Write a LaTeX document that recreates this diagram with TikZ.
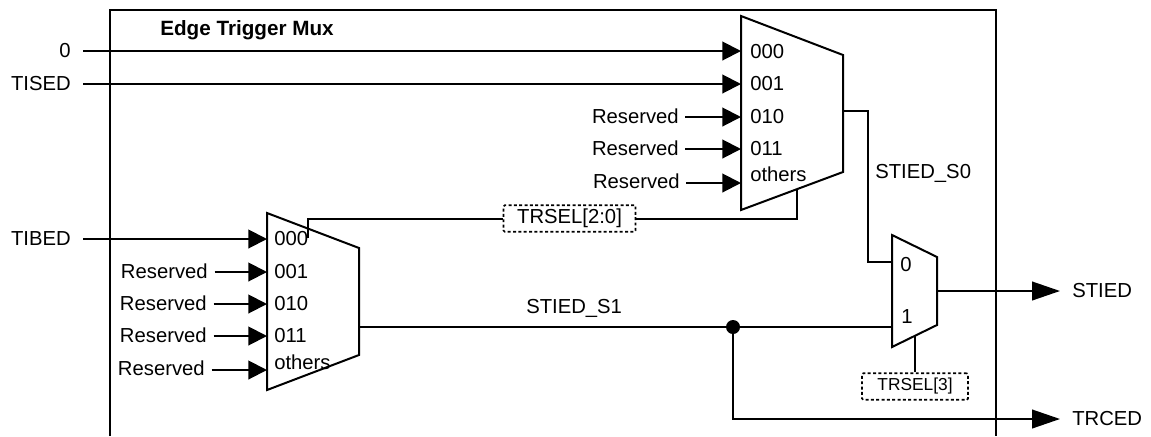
\documentclass[tikz,border=0pt]{standalone}
\usepackage{fontspec}
\setmainfont{Liberation Sans}
\usetikzlibrary{arrows.meta}
\tikzset{
  x=0.75pt,y=-0.75pt,
  wire/.style={line width=1.5pt},
  sig/.style={wire,-{Triangle[length=14pt,width=14pt]}},
  bigsig/.style={wire,-{Triangle[length=21pt,width=14pt]}},
  txt/.style={inner sep=0pt,font=\fontsize{15.2}{15.2}\selectfont},
  port/.style={txt,anchor=base west},
  lab/.style={txt,anchor=base east},
  sel/.style={draw,dash pattern=on 2.2pt off 1.8pt,line width=1.3pt,rounded corners=1pt,inner sep=0pt},
}
\begin{document}
\begin{tikzpicture}
\useasboundingbox (0,0) rectangle (1151,436);
% outer frame
\coordinate (fa) at (110,436);\coordinate (fb) at (110,10);\coordinate (fc) at (995.5,10);\coordinate (fd) at (995.5,436);
\draw[wire] (fa) -- (fb) -- (fc) -- (fd);
\node[txt,anchor=base west,font=\fontsize{15.5}{15.5}\selectfont\bfseries] (title) at (160,35) {Edge Trigger Mux};
% muxes
\coordinate (ma1) at (741,16);\coordinate (ma2) at (843,55);\coordinate (ma3) at (843,172);\coordinate (ma4) at (741,210);
\draw[wire,line join=miter] (ma1) -- (ma2) -- (ma3) -- (ma4) -- cycle;
\coordinate (mb1) at (267,213);\coordinate (mb2) at (359,248);\coordinate (mb3) at (359,355);\coordinate (mb4) at (267,390);
\draw[wire,line join=miter] (mb1) -- (mb2) -- (mb3) -- (mb4) -- cycle;
\coordinate (mc1) at (892,235);\coordinate (mc2) at (937,257);\coordinate (mc3) at (937,325);\coordinate (mc4) at (892,347);
\draw[wire,line join=miter] (mc1) -- (mc2) -- (mc3) -- (mc4) -- cycle;
% port coordinates
\foreach \n/\y in {0/51,1/84,2/117,3/149,4/183}{\coordinate (a\n) at (741,\y);}
\foreach \n/\y in {0/239,1/272,2/304,3/336,4/370}{\coordinate (b\n) at (267,\y);}
% top mux ports
\node[port] (pa0) at (750,58) {000};
\node[port] (pa1) at (750,90) {001};
\node[port] (pa2) at (750,123) {010};
\node[port] (pa3) at (750,155) {011};
\node[port] (pa4) at (750,181) {others};
% lower mux ports
\node[port] (pb0) at (274,245) {000};
\node[port] (pb1) at (274,278) {001};
\node[port] (pb2) at (274,310) {010};
\node[port] (pb3) at (274,342) {011};
\node[port] (pb4) at (274,369) {others};
% small mux ports
\node[port] (pc0) at (900,271) {0};
\node[port] (pc1) at (901,323) {1};
% inputs
\node[lab] (zero) at (71,57) {0};
\node[lab] (tised) at (71,90) {TISED};
\node[lab] (tibed) at (71,245) {TIBED};
\coordinate (zs) at (83,51);\coordinate (ts) at (83,84);\coordinate (bs) at (83,239);
\draw[sig] (zs) -- (a0);
\draw[sig] (ts) -- (a1);
\draw[sig] (bs) -- (b0);
\node[lab] (ra2) at (679,123) {Reserved};
\node[lab] (ra3) at (679,155) {Reserved};
\node[lab] (ra4) at (680,188) {Reserved};
\draw[sig] ([xshift=4.5pt]ra2.east |- a2) -- (a2);
\draw[sig] ([xshift=4.5pt]ra3.east |- a3) -- (a3);
\draw[sig] ([xshift=4.5pt]ra4.east |- a4) -- (a4);
\node[lab] (rb1) at (208,278) {Reserved};
\node[lab] (rb2) at (207,310) {Reserved};
\node[lab] (rb3) at (207,342) {Reserved};
\node[lab] (rb4) at (205,375) {Reserved};
\draw[sig] ([xshift=5pt]rb1.east |- b1) -- (b1);
\draw[sig] ([xshift=5pt]rb2.east |- b2) -- (b2);
\draw[sig] ([xshift=5pt]rb3.east |- b3) -- (b3);
\draw[sig] ([xshift=5pt]rb4.east |- b4) -- (b4);
% select boxes
\node[sel,minimum width=99pt,minimum height=20pt,font=\fontsize{15.2}{15.2}\selectfont] (s20) at (569.5,218.5) {TRSEL[2:0]};
\node[sel,minimum width=79.5pt,minimum height=20pt,font=\fontsize{13}{13}\selectfont] (s3) at (915,386.5) {TRSEL[3]};
\coordinate (sl) at (308,238);\coordinate (sr) at (797,190);\coordinate (sc) at (915,336);
\draw[wire] (sl) |- (s20.west);
\draw[wire] (s20.east) -| (sr);
\draw[wire] (s3.north) -- (sc);
% outputs of muxes
\coordinate (oa) at (843,111);\coordinate (ia) at (892,262);\coordinate (oa1) at (868,111);\coordinate (oa2) at (868,262);
\draw[wire] (oa) -- (oa1) -- (oa2) -- (ia);
\coordinate (ob) at (359,327);\coordinate (ic) at (892,327);
\draw[wire] (ob) -- (ic);
\node[txt,anchor=base west] (ls0) at (875,178) {STIED\_S0};
\node[txt,anchor=base west] (ls1) at (526,313) {STIED\_S1};
\node[circle,fill=black,inner sep=0pt,minimum size=10.5pt] (dot) at (733,327) {};
\coordinate (oc) at (937,291);
\node[txt,anchor=base west] (stied) at (1072,297) {STIED};
\node[txt,anchor=base west] (trced) at (1072,425) {TRCED};
\coordinate (e1) at (1060,291);\coordinate (e2) at (1060,419);
\draw[bigsig] (oc) -- (e1);
\draw[bigsig] (dot) |- (e2);
\end{tikzpicture}
\end{document}
